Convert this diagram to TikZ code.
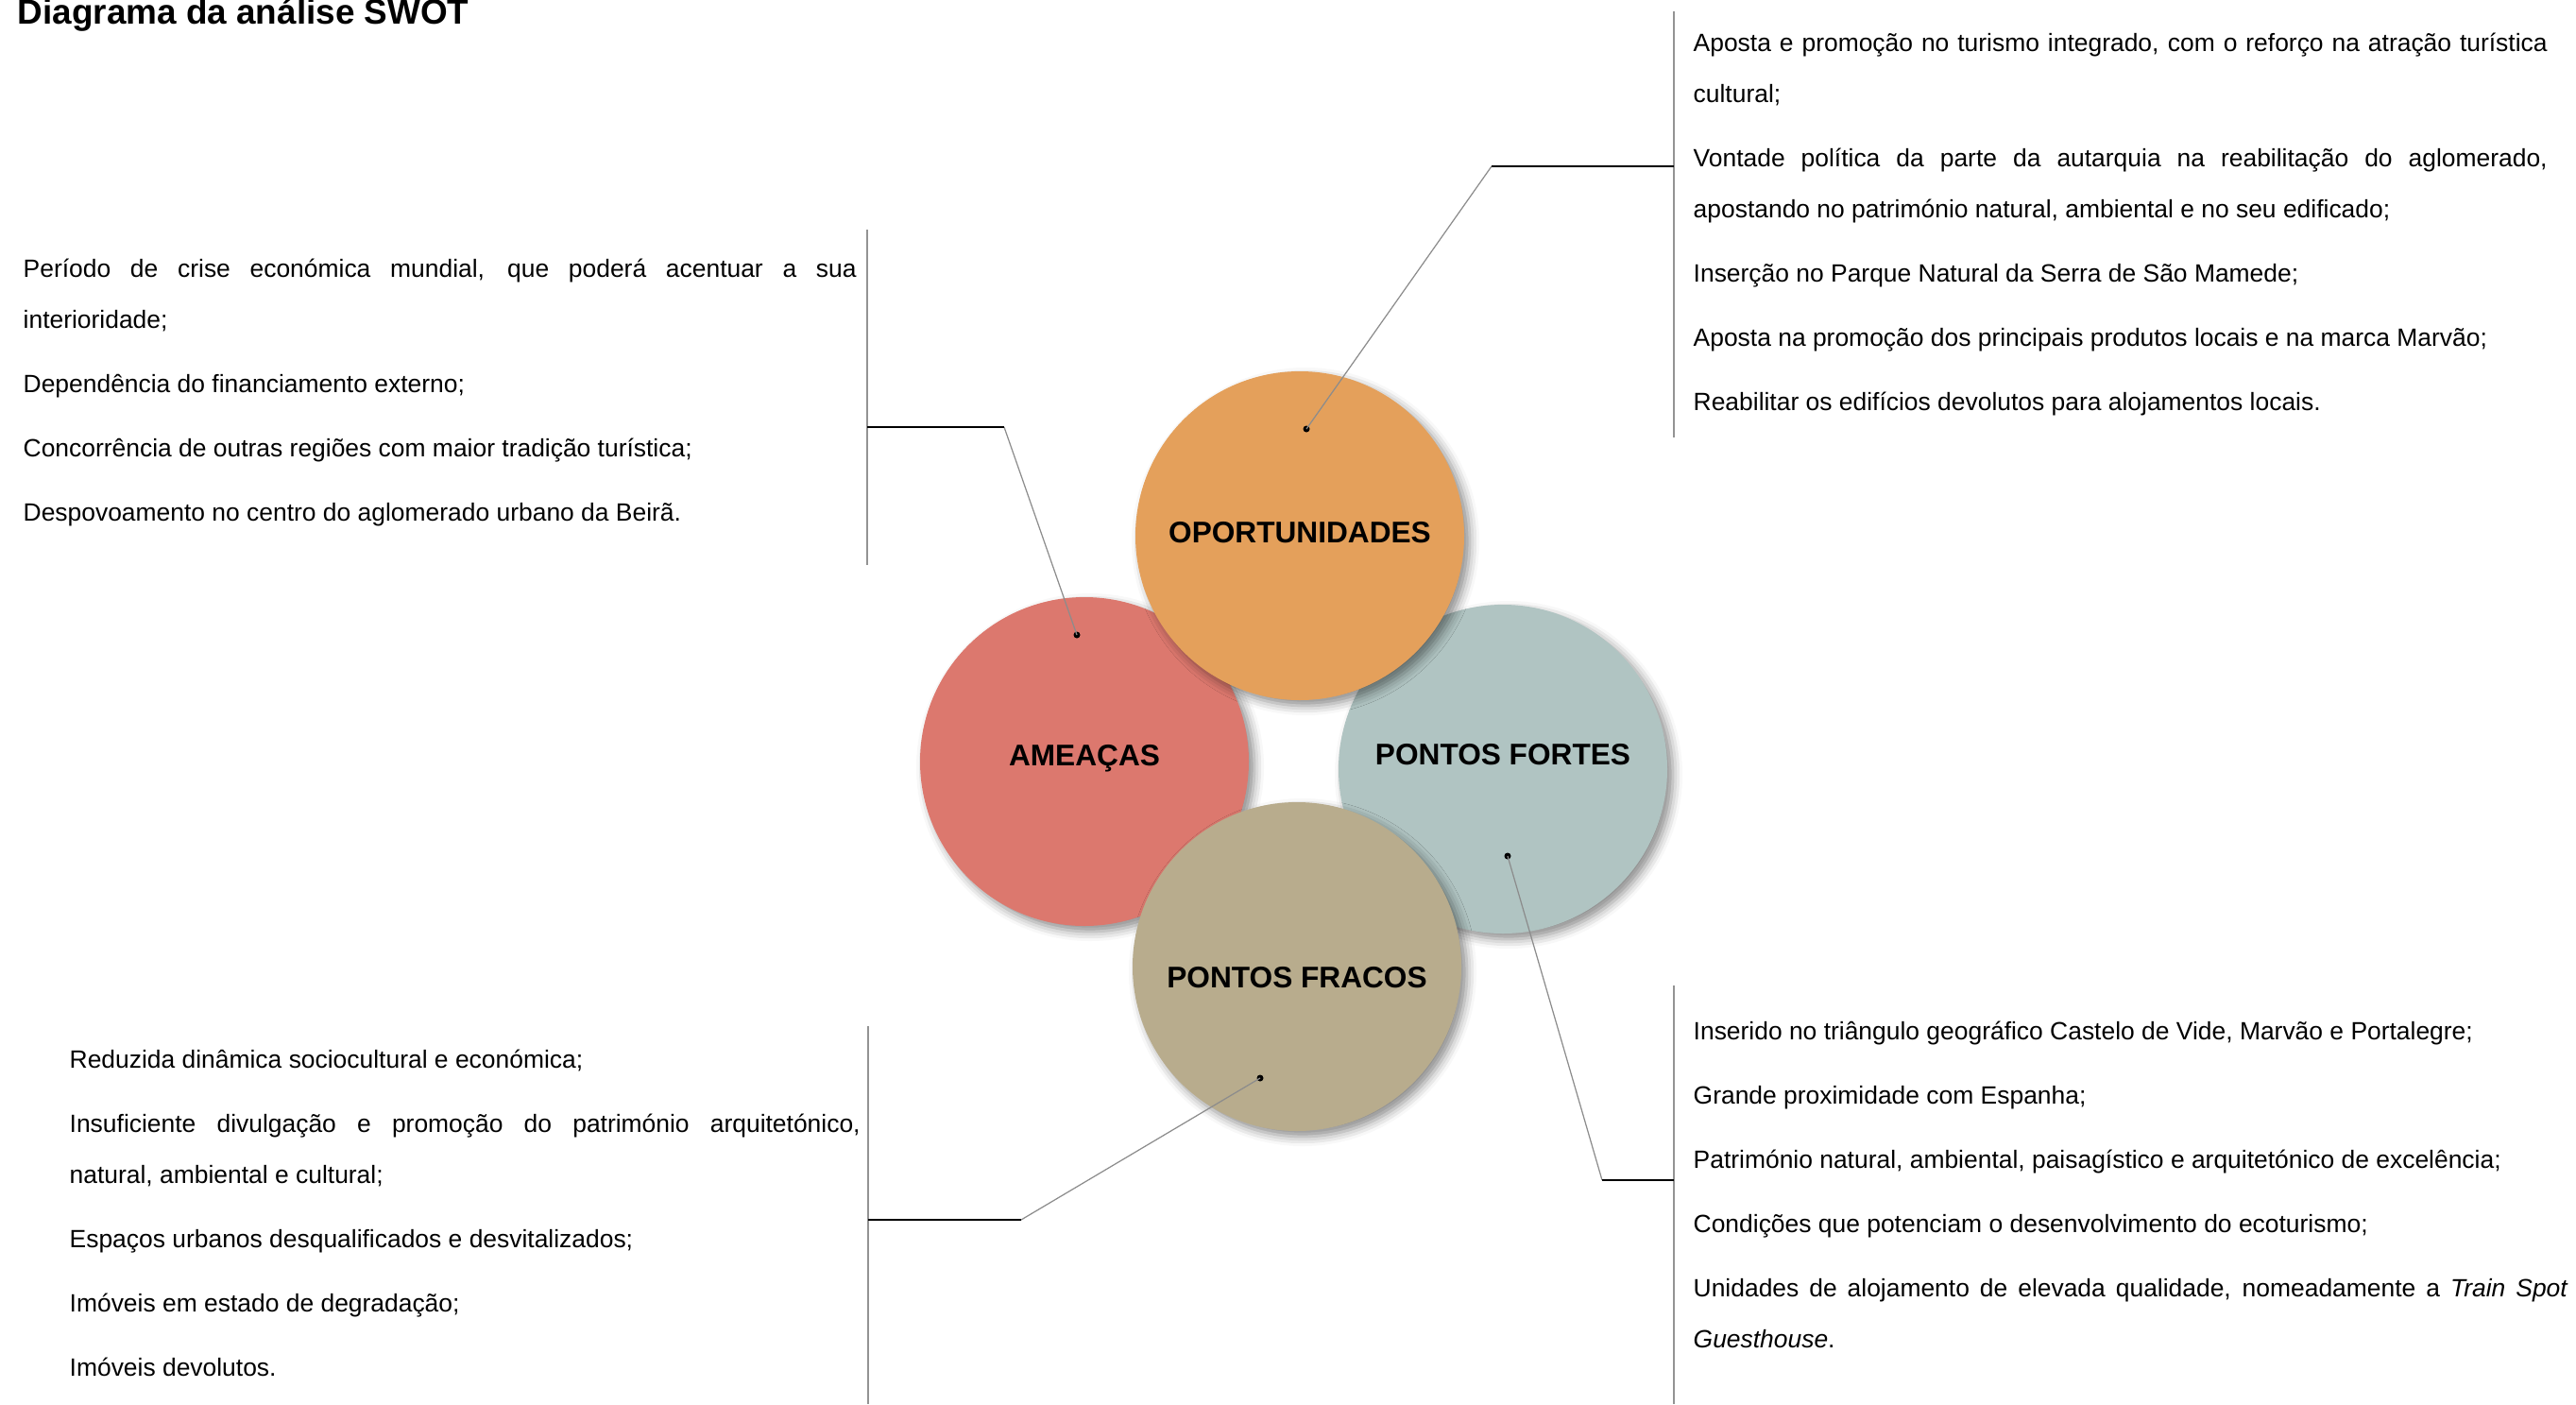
\documentclass[tikz,border=0pt]{standalone}
\usepackage{fontspec}
\setmainfont{Liberation Sans}
\usetikzlibrary{shadows.blur}
\definecolor{oportcol}{HTML}{E4A05B}
\definecolor{ameacol}{HTML}{DC786E}
\definecolor{fortecol}{HTML}{B0C4C2}
\definecolor{fracocol}{HTML}{B8AC8D}
\tolerance=10000
\hbadness=10000
\tikzset{
    swot/.style={circle, minimum size=3.48cm, inner sep=0pt,
        blur shadow={shadow xshift=0.06cm, shadow yshift=-0.06cm,
            shadow blur radius=0.1cm, shadow opacity=45}},
    swotlabel/.style={inner sep=0pt, font=\fontsize{9pt}{11pt}\selectfont\bfseries},
    blurb/.style={anchor=base west, inner sep=0pt, align=justify,
        font=\fontsize{7.52pt}{15.37pt}\selectfont},
    bracket/.style={draw=gray!85, line width=0.55pt},
    leader/.style={draw=gray!90, line width=0.35pt},
    tie/.style={draw=black, line width=0.4pt},
    dot/.style={circle, fill=black, inner sep=0pt, minimum size=0.07cm}
}
\begin{document}
\begin{tikzpicture}
    \useasboundingbox (0,0) rectangle (27.27,-14.86);

    % title
    \node[anchor=base west, inner sep=0pt, font=\fontsize{10.5pt}{12pt}\selectfont\bfseries]
        (titulo) at (0.18,-0.25) {Diagrama da análise SWOT};

    % the four circles
    \node[swot, fill=ameacol] (ameacas) at (11.48,-8.06) {};
    \node[swot, fill=fortecol] (fortes) at (15.91,-8.14) {};
    \node[swot, fill=oportcol] (oport) at (13.76,-5.67) {};
    \node[swot, fill=fracocol] (fracos) at (13.73,-10.23) {};

    \node[swotlabel] (oport-txt) at ([yshift=0.03cm]oport.center) {OPORTUNIDADES};
    \node[swotlabel] (ameacas-txt) at ([yshift=0.03cm]ameacas.center) {AMEAÇAS};
    \node[swotlabel] (fortes-txt) at ([yshift=0.15cm]fortes.center) {PONTOS FORTES};
    \node[swotlabel] (fracos-txt) at ([yshift=-0.12cm]fracos.center) {PONTOS FRACOS};

    % dots
    \node[dot] (oport-dot) at (13.83,-4.54) {};
    \node[dot] (ameacas-dot) at (11.40,-6.72) {};
    \node[dot] (fortes-dot) at (15.96,-9.06) {};
    \node[dot] (fracos-dot) at (13.34,-11.41) {};

    % brackets and elbows
    \coordinate (oport-top) at (17.72,-0.12);
    \coordinate (oport-bot) at (17.72,-4.63);
    \coordinate (oport-join) at (17.72,-1.76);
    \coordinate (oport-elbow) at (15.79,-1.76);

    \coordinate (ameacas-top) at (9.18,-2.43);
    \coordinate (ameacas-bot) at (9.18,-5.98);
    \coordinate (ameacas-join) at (9.18,-4.52);
    \coordinate (ameacas-elbow) at (10.63,-4.52);

    \coordinate (fortes-top) at (17.72,-10.43);
    \coordinate (fortes-bot) at (17.72,-14.86);
    \coordinate (fortes-join) at (17.72,-12.49);
    \coordinate (fortes-elbow) at (16.96,-12.49);

    \coordinate (fracos-top) at (9.19,-10.86);
    \coordinate (fracos-bot) at (9.19,-14.86);
    \coordinate (fracos-join) at (9.19,-12.91);
    \coordinate (fracos-elbow) at (10.81,-12.91);

    \draw[bracket] (oport-top) -- (oport-bot);
    \draw[bracket] (ameacas-top) -- (ameacas-bot);
    \draw[bracket] (fortes-top) -- (fortes-bot);
    \draw[bracket] (fracos-top) -- (fracos-bot);

    \draw[leader] (oport-dot.center) -- (oport-elbow);
    \draw[leader] (ameacas-dot.center) -- (ameacas-elbow);
    \draw[leader] (fortes-dot.center) -- (fortes-elbow);
    \draw[leader] (fracos-dot.center) -- (fracos-elbow);

    \draw[tie] (oport-elbow) -- (oport-join);
    \draw[tie] (ameacas-elbow) -- (ameacas-join);
    \draw[tie] (fortes-elbow) -- (fortes-join);
    \draw[tie] (fracos-elbow) -- (fracos-join);

    % text blocks
    \node[blurb, text width=9.04cm] (oport-list) at (17.92,-0.54) {%
        Aposta e promoção no turismo integrado, com o reforço na atração turística\linebreak
        cultural;\\[0.14cm]
        Vontade política da parte da autarquia na reabilitação do aglomerado,\linebreak
        apostando no património natural, ambiental e no seu edificado;\\[0.14cm]
        Inserção no Parque Natural da Serra de São Mamede;\\[0.14cm]
        Aposta na promoção dos principais produtos locais e na marca Marvão;\\[0.14cm]
        Reabilitar os edifícios devolutos para alojamentos locais.};

    \node[blurb, text width=8.82cm] (ameacas-list) at (0.24,-2.93) {%
        Período de crise económica mundial, que poderá acentuar a sua\linebreak
        interioridade;\\[0.14cm]
        Dependência do financiamento externo;\\[0.14cm]
        Concorrência de outras regiões com maior tradição turística;\\[0.14cm]
        Despovoamento no centro do aglomerado urbano da Beirã.};

    \node[blurb, text width=9.26cm] (fortes-list) at (17.92,-11.00) {%
        Inserido no triângulo geográfico Castelo de Vide, Marvão e Portalegre;\\[0.14cm]
        Grande proximidade com Espanha;\\[0.14cm]
        Património natural, ambiental, paisagístico e arquitetónico de excelência;\\[0.14cm]
        Condições que potenciam o desenvolvimento do ecoturismo;\\[0.14cm]
        Unidades de alojamento de elevada qualidade, nomeadamente a \textit{Train Spot}\linebreak
        \textit{Guesthouse}.};

    \node[blurb, text width=8.37cm] (fracos-list) at (0.73,-11.30) {%
        Reduzida dinâmica sociocultural e económica;\\[0.14cm]
        Insuficiente divulgação e promoção do património arquitetónico,\linebreak
        natural, ambiental e cultural;\\[0.14cm]
        Espaços urbanos desqualificados e desvitalizados;\\[0.14cm]
        Imóveis em estado de degradação;\\[0.14cm]
        Imóveis devolutos.};
\end{tikzpicture}
\end{document}
